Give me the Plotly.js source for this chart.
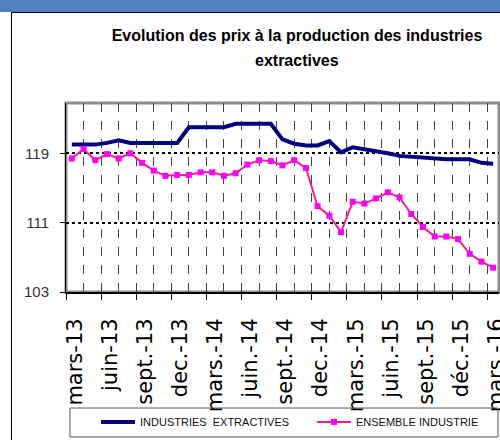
<!DOCTYPE html>
<html>
<head>
<meta charset="utf-8">
<script src="https://cdn.plot.ly/plotly-3.0.1.min.js"></script>
<style>
  html, body { margin: 0; padding: 0; background: #ffffff; }
  #wrap { position: relative; width: 500px; height: 440px; overflow: hidden; background: #ffffff; }
  #band { position: absolute; left: 0; top: 0; width: 500px; height: 12px; background: #4f81bd; }
  #frame { position: absolute; left: 11px; top: 12px; width: 500px; height: 440px; border-left: 1px solid #000; border-top: 1px solid #000; background: #ffffff; }
  #chart { position: absolute; left: 0; top: 0; width: 500px; height: 440px; }
</style>
</head>
<body>
<div id="wrap">
  <div id="band"></div>
  <div id="frame"></div>
  <div id="chart"></div>
</div>
<script>
// Months (categories)
const months = ['mars-13','avr.-13','mai-13','juin-13','juil.-13','août-13','sept.-13','oct.-13','nov.-13',
  'dec.-13','janv.-14','févr.-14','mars.-14','avr.-14','mai-14','juin.-14','juil.-14','août-14',
  'sept.-14','oct.-14','nov.-14','dec.-14','janv.-15','févr.-15','mars.-15','avr.-15','mai-15',
  'juin.-15','juil.-15','août-15','sept.-15','oct.-15','nov.-15','déc.-15','janv.-16','févr.-16','mars.-16'];

// Series values
const industriesExtractives = [120.0,120.0,120.0,120.2,120.5,120.2,120.2,120.2,120.2,120.2,
  122.0,122.0,122.1,122.0,122.4,122.4,122.4,122.4,120.6,120.1,119.9,119.9,120.4,119.1,
  119.7,119.5,119.2,119.0,118.7,118.6,118.5,118.3,118.3,118.3,118.3,117.9,117.8];
const ensembleIndustrie = [118.4,119.5,118.2,118.9,118.4,119.0,117.9,117.0,116.4,116.5,
  116.5,116.8,116.8,116.4,116.7,117.7,118.2,118.1,117.6,118.2,117.3,112.9,111.8,109.9,
  113.4,113.2,113.8,114.5,113.9,112.0,110.5,109.4,109.4,109.1,107.4,106.5,105.8];

const seriesNames = ['INDUSTRIES  EXTRACTIVES', 'ENSEMBLE INDUSTRIE'];
const titleLines = ['Evolution des prix à la production des industries', 'extractives'];
const yTicks = [103, 111, 119];

const idx = months.map((m, i) => i);
const labelIdx = idx.filter(i => i % 3 === 0);
const boundaryIdx = labelIdx.map(i => i - 0.5);
const midIdx = labelIdx.map(i => i + 1);

const sans = '"Liberation Sans", Arial, sans-serif';

const traces = [
  {
    x: idx, y: industriesExtractives, name: seriesNames[0], type: 'scatter', mode: 'lines',
    line: { color: '#000080', width: 4 }, legend: 'legend'
  },
  {
    x: idx, y: ensembleIndustrie, name: seriesNames[1], type: 'scatter', mode: 'lines+markers',
    line: { color: '#ff1a8c', width: 2 },
    marker: { symbol: 'square', size: 6, color: '#ff00ff', line: { width: 0 } },
    xaxis: 'x2', legend: 'legend2'
  }
];

const legendFont = { family: sans, size: 11, color: '#111' };
const titleFont = { family: sans, size: 16, color: '#000000', weight: 'bold' };

const layout = {
  width: 500, height: 440,
  margin: { l: 66, r: 1, t: 103, b: 148, pad: 0 },
  paper_bgcolor: 'rgba(0,0,0,0)',
  plot_bgcolor: '#ffffff',
  showlegend: true,
  title: {
    text: titleLines[0], font: titleFont,
    x: 0.594, xref: 'container', xanchor: 'center',
    y: 1 - 35 / 440, yref: 'container', yanchor: 'middle'
  },
  annotations: [
    { text: titleLines[1], font: titleFont, showarrow: false,
      xref: 'paper', yref: 'paper', x: (297 - 66) / 433, y: (292 - 60) / 189,
      xanchor: 'center', yanchor: 'middle' }
  ],
  xaxis: {
    type: 'linear', range: [-0.5, 36.5], fixedrange: true, automargin: false,
    tickmode: 'array', tickvals: boundaryIdx, showticklabels: false,
    ticks: 'outside', ticklen: 6, tickcolor: '#000', tickwidth: 1,
    showgrid: true, gridcolor: '#444', gridwidth: 1, griddash: 'dash',
    minor: { tickmode: 'array', tickvals: midIdx, showgrid: true, gridcolor: '#444', gridwidth: 1, griddash: 'dash', ticks: '' },
    showline: true, linecolor: '#000', linewidth: 2, zeroline: false
  },
  xaxis2: {
    type: 'linear', range: [-0.5, 36.5], overlaying: 'x', side: 'bottom', anchor: 'y', automargin: false,
    tickmode: 'array', tickvals: labelIdx, ticktext: labelIdx.map(i => months[i]),
    tickangle: -90, ticks: 'outside', ticklen: 17, tickcolor: 'rgba(0,0,0,0)',
    showgrid: false, showline: false, zeroline: false,
    ticklabelshift: 3, ticklabeloverflow: 'allow',
    tickfont: { family: '"DejaVu Sans", sans-serif', size: 21, color: '#000' }
  },
  yaxis: {
    range: [103, 124.8], fixedrange: true, automargin: false,
    tickmode: 'array', tickvals: yTicks, ticktext: yTicks.map(String),
    ticks: 'outside', ticklen: 5, tickcolor: '#000', ticklabelstandoff: 8,
    tickfont: { family: sans, size: 15, color: '#333' },
    showgrid: true, gridcolor: '#000', gridwidth: 2, griddash: 'dot',
    showline: true, linecolor: '#000', linewidth: 1, zeroline: false
  },
  legend: {
    orientation: 'h', xref: 'container', yref: 'container',
    x: 96 / 500, xanchor: 'left', y: 1 - 422 / 440, yanchor: 'middle',
    bgcolor: 'rgba(0,0,0,0)', borderwidth: 0, font: legendFont, itemwidth: 34
  },
  legend2: {
    orientation: 'h', xref: 'container', yref: 'container',
    x: 312 / 500, xanchor: 'left', y: 1 - 422 / 440, yanchor: 'middle',
    bgcolor: 'rgba(0,0,0,0)', borderwidth: 0, font: legendFont, itemwidth: 34
  },
  shapes: [
    { type: 'rect', xref: 'paper', yref: 'paper', x0: 0, x1: 1, y0: 0, y1: 1,
      line: { color: '#8c8c8c', width: 3 }, layer: 'below' },
    { type: 'rect', xref: 'paper', yref: 'paper', x0: 0.0092, x1: 0.9977, y0: -0.767, y1: -0.614,
      line: { color: '#555', width: 1 }, fillcolor: 'rgba(0,0,0,0)' }
  ]
};

Plotly.newPlot('chart', traces, layout, { staticPlot: true, displayModeBar: false });
</script>
</body>
</html>
